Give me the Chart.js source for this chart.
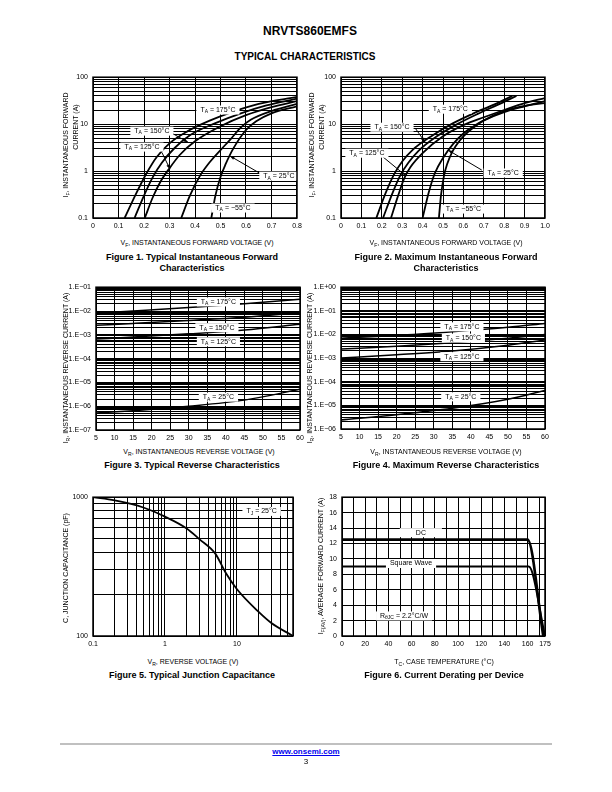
<!DOCTYPE html>
<html>
<head>
<meta charset="utf-8">
<script src="https://cdn.jsdelivr.net/npm/chart.js@4.4.1/dist/chart.umd.min.js"></script>
<style>
body { margin: 0; width: 612px; height: 792px; position: relative; background: #fff; color: #000;
       font-family: "Liberation Sans", Arial, Helvetica, sans-serif; overflow: hidden; }
canvas { position: absolute; }
.t { position: absolute; white-space: nowrap; transform: translate(-50%, -50%); line-height: 1; }
.r { transform: translate(-50%, -50%) rotate(-90deg); }
.ax { font-size: 7px; }
.cap { font-size: 9px; font-weight: bold; }
sub { font-size: 72%; vertical-align: -2px; line-height: 0; }
#rule { position: absolute; left: 60px; top: 743px; width: 492px; height: 2px; background: #c0c0c0; }
a { color: #0000ee; }
</style>
</head>
<body>

<div class="t" style="left:310px;top:31px;font-size:12px;font-weight:bold">NRVTS860EMFS</div>
<div class="t" style="left:305px;top:57px;font-size:10px;font-weight:bold">TYPICAL CHARACTERISTICS</div>

<canvas id="fig1"></canvas>
<canvas id="fig2"></canvas>
<canvas id="fig3"></canvas>
<canvas id="fig4"></canvas>
<canvas id="fig5"></canvas>
<canvas id="fig6"></canvas>

<!-- figure 1 -->
<div class="t r ax" style="left:65px;top:145px">I<sub>F</sub>, INSTANTANEOUS FORWARD</div>
<div class="t r ax" style="left:75px;top:127px">CURRENT (A)</div>
<div class="t ax" style="left:197px;top:242px">V<sub>F</sub>, INSTANTANEOUS FORWARD VOLTAGE (V)</div>
<div class="t cap" style="left:192px;top:257px">Figure 1. Typical Instantaneous Forward</div>
<div class="t cap" style="left:192px;top:268px">Characteristics</div>

<!-- figure 2 -->
<div class="t r ax" style="left:311px;top:145px">I<sub>F</sub>, INSTANTANEOUS FORWARD</div>
<div class="t r ax" style="left:321px;top:127px">CURRENT (A)</div>
<div class="t ax" style="left:446px;top:242px">V<sub>F</sub>, INSTANTANEOUS FORWARD VOLTAGE (V)</div>
<div class="t cap" style="left:446px;top:257px">Figure 2. Maximum Instantaneous Forward</div>
<div class="t cap" style="left:446px;top:268px">Characteristics</div>

<!-- figure 3 -->
<div class="t r ax" style="left:65px;top:368px">I<sub>R</sub>, INSTANTANEOUS REVERSE CURRENT (A)</div>
<div class="t ax" style="left:199px;top:451px">V<sub>R</sub>, INSTANTANEOUS REVERSE VOLTAGE (V)</div>
<div class="t cap" style="left:192px;top:465px">Figure 3. Typical Reverse Characteristics</div>

<!-- figure 4 -->
<div class="t r ax" style="left:309px;top:368px">I<sub>R</sub>, INSTANTANEOUS REVERSE CURRENT (A)</div>
<div class="t ax" style="left:446px;top:451px">V<sub>R</sub>, INSTANTANEOUS REVERSE VOLTAGE (V)</div>
<div class="t cap" style="left:446px;top:465px">Figure 4. Maximum Reverse Characteristics</div>

<!-- figure 5 -->
<div class="t r ax" style="left:65px;top:568px">C, JUNCTION CAPACITANCE (pF)</div>
<div class="t ax" style="left:193px;top:661px">V<sub>R</sub>, REVERSE VOLTAGE (V)</div>
<div class="t cap" style="left:192px;top:675px">Figure 5. Typical Junction Capacitance</div>

<!-- figure 6 -->
<div class="t r ax" style="left:320px;top:566px">I<sub>F(AV)</sub>, AVERAGE FORWARD CURRENT (A)</div>
<div class="t ax" style="left:444px;top:661px">T<sub>C</sub>, CASE TEMPERATURE (&deg;C)</div>
<div class="t cap" style="left:444px;top:675px">Figure 6. Current Derating per Device</div>

<div id="rule"></div>
<div class="t" style="left:306px;top:752px;font-size:8px;font-weight:bold"><a href="http://www.onsemi.com">www.onsemi.com</a></div>
<div class="t" style="left:306px;top:762px;font-size:8px">3</div>

<script>
// ---- Figure 1: typical forward, VF (V) vs IF (A) ----
const fwdXTicks = [0, 0.1, 0.2, 0.3, 0.4, 0.5, 0.6, 0.7, 0.8];
const fwdXLabels = ['0', '0.1', '0.2', '0.3', '0.4', '0.5', '0.6', '0.7', '0.8'];
const fwdYTicks = [0.1, 1, 10, 100];
const fwdYLabels = ['0.1', '1', '10', '100'];
const typ175 = [[0.124,0.1],[0.17,0.34],[0.21,0.9],[0.25,2.0],[0.30,3.9],[0.37,7],[0.46,12],[0.55,18.5],[0.65,27],[0.80,38]];
const typ150 = [[0.163,0.1],[0.20,0.3],[0.235,0.75],[0.27,1.5],[0.32,3.1],[0.38,5.8],[0.48,10.5],[0.58,17],[0.68,25],[0.80,35]];
const typ125 = [[0.203,0.1],[0.235,0.28],[0.265,0.6],[0.30,1.15],[0.34,2.2],[0.40,4.3],[0.50,9],[0.60,15.5],[0.70,23],[0.80,31]];
const typ25  = [[0.346,0.1],[0.38,0.3],[0.42,0.8],[0.46,1.6],[0.50,2.8],[0.54,4.8],[0.58,8.5],[0.62,12.5],[0.70,19],[0.80,27]];
const typM55 = [[0.464,0.1],[0.48,0.3],[0.50,0.75],[0.52,1.4],[0.55,3],[0.60,7.5],[0.64,11.5],[0.70,17],[0.80,24]];

// ---- Figure 2: maximum forward ----
const maxXTicks = [0, 0.1, 0.2, 0.3, 0.4, 0.5, 0.6, 0.7, 0.8, 0.9, 1.0];
const maxXLabels = ['0', '0.1', '0.2', '0.3', '0.4', '0.5', '0.6', '0.7', '0.8', '0.9', '1.0'];
const max175 = [[0.173,0.1],[0.22,0.35],[0.26,0.85],[0.30,1.6],[0.35,2.8],[0.45,5.8],[0.55,10.5],[0.65,17],[0.75,26],[0.84,40]];
const max150 = [[0.206,0.1],[0.25,0.32],[0.29,0.8],[0.33,1.5],[0.38,2.7],[0.47,5.5],[0.57,10],[0.67,16.5],[0.77,26],[0.86,40]];
const max125 = [[0.245,0.1],[0.28,0.3],[0.31,0.7],[0.34,1.2],[0.40,2.4],[0.50,5.5],[0.60,9.5],[0.70,14],[0.80,20],[0.90,28],[1.0,36]];
const max25  = [[0.40,0.1],[0.43,0.35],[0.46,0.9],[0.50,1.9],[0.55,3.8],[0.60,6.3],[0.65,9],[0.70,12],[0.80,18],[0.90,24],[1.0,31]];
const maxM55 = [[0.48,0.1],[0.49,0.3],[0.505,0.8],[0.52,1.4],[0.55,2.8],[0.60,5.5],[0.65,8.5],[0.70,12],[0.80,19],[0.90,24.5],[1.0,28]];

// ---- Figures 3 and 4: reverse current, VR (V) vs IR (A) ----
const revXTicks = [5, 10, 15, 20, 25, 30, 35, 40, 45, 50, 55, 60];
const revXLabels = ['5', '10', '15', '20', '25', '30', '35', '40', '45', '50', '55', '60'];
const typRevYTicks = [1e-7, 1e-6, 1e-5, 1e-4, 1e-3, 1e-2, 1e-1];
const typRevYLabels = ['1.E\u221207', '1.E\u221206', '1.E\u221205', '1.E\u221204', '1.E\u221203', '1.E\u221202', '1.E\u221201'];
const maxRevYTicks = [1e-6, 1e-5, 1e-4, 1e-3, 1e-2, 1e-1, 1];
const maxRevYLabels = ['1.E\u221206', '1.E\u221205', '1.E\u221204', '1.E\u221203', '1.E\u221202', '1.E\u221201', '1.E+00'];
const rev175 = [[5,8e-3],[15,1.0e-2],[30,1.4e-2],[45,2.0e-2],[60,3.1e-2]];
const rev150 = [[5,2.5e-3],[15,3.0e-3],[30,4.0e-3],[45,5.5e-3],[60,8.5e-3]];
const rev125 = [[5,6.6e-4],[15,8e-4],[30,1.1e-3],[45,1.6e-3],[60,2.8e-3]];
const rev25  = [[5,5.2e-7],[15,6.5e-7],[30,1.0e-6],[45,1.8e-6],[60,5.1e-6]];
const revMax175 = [[5,7e-3],[20,9e-3],[35,1.3e-2],[50,2.0e-2],[60,2.9e-2]];
const revMax150 = [[5,2.4e-3],[20,3.2e-3],[35,4.5e-3],[50,7e-3],[60,1.0e-2]];
const revMax125 = [[5,1.0e-3],[20,1.4e-3],[35,2.0e-3],[50,3.5e-3],[60,5.8e-3]];
const revMax25  = [[5,2.4e-6],[20,4e-6],[35,7.5e-6],[50,1.8e-5],[60,4.3e-5]];

// ---- Figure 5: junction capacitance, VR (V) vs C (pF) ----
const capXTicks = [0.1, 1, 10];
const capXLabels = ['0.1', '1', '10'];
const capYTicks = [100, 1000];
const capYLabels = ['100', '1000'];
const capCurve = [[0.1,1000],[0.2,948],[0.5,843],[1,724],[2,595],[3,499],[5,392],[7,284],[10,217],[20,149],[30,124],[60,100]];

// ---- Figure 6: current derating, TC (C) vs IF(AV) (A) ----
const derXTicks = [0, 20, 40, 60, 80, 100, 120, 140, 160, 175];
const derXLabels = ['0', '20', '40', '60', '80', '100', '120', '140', '160', '175'];
const derYTicks = [0, 2, 4, 6, 8, 10, 12, 14, 16, 18];
const derYLabels = ['0', '2', '4', '6', '8', '10', '12', '14', '16', '18'];
const derDC = [[0,12.5],[160,12.5],[173.5,0]];
const derSquare = [[0,9],[161,9],[175,0]];

// grid helpers
function logGrid(lo, hi, max) {
    const out = [];
    for (let e = lo; e < hi; e++)
        for (let m = 1; m < 10; m++) out.push(m * Math.pow(10, e));
    out.push(Math.pow(10, hi));
    return out.filter(v => v <= max * 1.0001);
}
function stepGrid(lo, hi, step) {
    const out = [];
    for (let v = lo; v <= hi + 1e-9; v += step) out.push(v);
    return out;
}

const TICK_FONT = { family: 'Liberation Sans', size: 7 };

function axis(spec, dir, size) {
    return {
        type: spec.type,
        min: spec.min,
        max: spec.max,
        afterBuildTicks: s => { s.ticks = spec.grid.map(v => ({ value: v })); },
        afterFit: s => { if (dir === 'x') s.height = size; else s.width = size; },
        ticks: {
            autoSkip: false, maxRotation: 0, color: '#000', font: TICK_FONT,
            padding: dir === 'x' ? 4 : 5,
            callback: v => {
                const i = spec.ticks.findIndex(t => Math.abs(t - v) <= 1e-6 * Math.max(Math.abs(t), 1e-12));
                return i < 0 ? '' : spec.labels[i];
            }
        },
        grid: { color: '#000', lineWidth: 1, drawTicks: false },
        border: { display: false }
    };
}

function line(points, width) {
    return {
        data: points.map(p => ({ x: p[0], y: p[1] })),
        borderColor: '#000', borderWidth: width || 1.8, pointRadius: 0,
        cubicInterpolationMode: 'monotone', fill: false
    };
}

const framePlugin = {
    id: 'frame',
    afterDraw(chart) {
        const a = chart.chartArea, ctx = chart.ctx;
        ctx.save();
        ctx.strokeStyle = '#000';
        ctx.lineWidth = 1.5;
        ctx.strokeRect(a.left, a.top, a.right - a.left, a.bottom - a.top);
        ctx.restore();
    }
};

// text labels and arrows inside a plot, placed in data units
const notesPlugin = {
    id: 'notes',
    afterDatasetsDraw(chart, args, opts) {
        const ctx = chart.ctx, sx = chart.scales.x, sy = chart.scales.y;
        (opts.items || []).forEach(n => {
            ctx.save();
            if (n.arrow) {
                const x1 = sx.getPixelForValue(n.arrow[0]), y1 = sy.getPixelForValue(n.arrow[1]);
                const x2 = sx.getPixelForValue(n.arrow[2]), y2 = sy.getPixelForValue(n.arrow[3]);
                const ang = Math.atan2(y2 - y1, x2 - x1);
                ctx.strokeStyle = '#000';
                ctx.lineWidth = 1;
                ctx.beginPath(); ctx.moveTo(x1, y1); ctx.lineTo(x2, y2); ctx.stroke();
                ctx.beginPath();
                ctx.moveTo(x2, y2);
                ctx.lineTo(x2 - 5 * Math.cos(ang - 0.35), y2 - 5 * Math.sin(ang - 0.35));
                ctx.lineTo(x2 - 5 * Math.cos(ang + 0.35), y2 - 5 * Math.sin(ang + 0.35));
                ctx.closePath(); ctx.fillStyle = '#000'; ctx.fill();
            }
            const cx = sx.getPixelForValue(n.x), cy = sy.getPixelForValue(n.y);
            const fs = 7, ss = 5;
            const big = `${fs}px "Liberation Sans"`, small = `${ss}px "Liberation Sans"`;
            const parts = n.text;
            ctx.font = big; const w0 = ctx.measureText(parts[0]).width;
            ctx.font = small; const w1 = parts[1] ? ctx.measureText(parts[1]).width : 0;
            ctx.font = big; const w2 = parts[2] ? ctx.measureText(parts[2]).width : 0;
            const w = w0 + w1 + w2, pad = n.pad == null ? 4 : n.pad;
            ctx.fillStyle = '#fff';
            ctx.fillRect(cx - w / 2 - pad, cy - 4.5, w + 2 * pad, 9);
            ctx.fillStyle = '#000';
            ctx.textBaseline = 'middle';
            let x = cx - w / 2;
            ctx.font = big; ctx.fillText(parts[0], x, cy); x += w0;
            if (parts[1]) { ctx.font = small; ctx.fillText(parts[1], x, cy + 2); x += w1; }
            if (parts[2]) { ctx.font = big; ctx.fillText(parts[2], x, cy); }
            ctx.restore();
        });
    }
};

function plot(id, box, xs, ys, datasets, notes) {
    const L = 42, T = 8, R = 12, B = 16;
    const cv = document.getElementById(id);
    cv.width = box.w + L + R;
    cv.height = box.h + T + B;
    cv.style.left = (box.l - L) + 'px';
    cv.style.top = (box.t - T) + 'px';
    new Chart(cv, {
        type: 'line',
        data: { datasets: datasets },
        options: {
            responsive: false, animation: false, devicePixelRatio: 1,
            layout: { padding: { top: T, right: R, left: 0, bottom: 0 } },
            plugins: { legend: { display: false }, tooltip: { enabled: false }, notes: { items: notes } },
            scales: { x: axis(xs, 'x', B), y: axis(ys, 'y', L) }
        },
        plugins: [framePlugin, notesPlugin]
    });
}

const fwdY = { type: 'logarithmic', min: 0.1, max: 100, grid: logGrid(-1, 2, 100), ticks: fwdYTicks, labels: fwdYLabels };

plot('fig1', { l: 93, t: 76, w: 204, h: 142 },
    { type: 'linear', min: 0, max: 0.8, grid: stepGrid(0, 0.8, 0.1), ticks: fwdXTicks, labels: fwdXLabels },
    fwdY,
    [line(typ175), line(typ150), line(typ125), line(typ25), line(typM55)],
    [
        { x: 0.49, y: 20, text: ['T', 'A', ' = 175\u00b0C'] },
        { x: 0.231, y: 7.1, text: ['T', 'A', ' = 150\u00b0C'], arrow: [0.31, 6.4, 0.373, 4.1] },
        { x: 0.192, y: 3.24, text: ['T', 'A', ' = 125\u00b0C'], arrow: [0.27, 2.5, 0.302, 1.1] },
        { x: 0.729, y: 0.78, text: ['T', 'A', ' = 25\u00b0C'], arrow: [0.667, 0.82, 0.537, 2.1] },
        { x: 0.549, y: 0.163, text: ['T', 'A', ' = \u221255\u00b0C'] }
    ]);

plot('fig2', { l: 341, t: 76, w: 204, h: 142 },
    { type: 'linear', min: 0, max: 1.0, grid: stepGrid(0, 1.0, 0.1), ticks: maxXTicks, labels: maxXLabels },
    fwdY,
    [line(max175), line(max150), line(max125), line(max25), line(maxM55)],
    [
        { x: 0.536, y: 20.8, text: ['T', 'A', ' = 175\u00b0C'] },
        { x: 0.25, y: 8.6, text: ['T', 'A', ' = 150\u00b0C'], arrow: [0.363, 8.3, 0.413, 4.1] },
        { x: 0.127, y: 2.4, text: ['T', 'A', ' = 125\u00b0C'], arrow: [0.206, 2.0, 0.314, 0.82] },
        { x: 0.795, y: 0.91, text: ['T', 'A', ' = 25\u00b0C'], arrow: [0.69, 1.05, 0.525, 2.8] },
        { x: 0.6, y: 0.155, text: ['T', 'A', ' = \u221255\u00b0C'] }
    ]);

const revX = { type: 'linear', min: 5, max: 60, grid: stepGrid(5, 60, 5), ticks: revXTicks, labels: revXLabels };

plot('fig3', { l: 96, t: 286, w: 204, h: 144 }, revX,
    { type: 'logarithmic', min: 1e-7, max: 1e-1, grid: logGrid(-7, -1, 1e-1), ticks: typRevYTicks, labels: typRevYLabels },
    [line(rev175, 1.5), line(rev150, 1.5), line(rev125, 1.5), line(rev25, 1.5)],
    [
        { x: 38, y: 2.4e-2, text: ['T', 'A', ' = 175\u00b0C'] },
        { x: 37.6, y: 2.0e-3, text: ['T', 'A', ' = 150\u00b0C'] },
        { x: 38, y: 5.1e-4, text: ['T', 'A', ' = 125\u00b0C'] },
        { x: 38, y: 2.4e-6, text: ['T', 'A', ' = 25\u00b0C'] }
    ]);

plot('fig4', { l: 341, t: 286, w: 204, h: 143 }, revX,
    { type: 'logarithmic', min: 1e-6, max: 1, grid: logGrid(-6, 0, 1), ticks: maxRevYTicks, labels: maxRevYLabels },
    [line(revMax175, 1.5), line(revMax150, 1.5), line(revMax125, 1.5), line(revMax25, 1.5)],
    [
        { x: 37.6, y: 2.1e-2, text: ['T', 'A', ' = 175\u00b0C'] },
        { x: 38, y: 7e-3, text: ['T', 'A', ' = 150\u00b0C'] },
        { x: 37.6, y: 1.15e-3, text: ['T', 'A', ' = 125\u00b0C'] },
        { x: 37.3, y: 2.3e-5, text: ['T', 'A', ' = 25\u00b0C'] }
    ]);

plot('fig5', { l: 93, t: 496, w: 200, h: 140 },
    { type: 'logarithmic', min: 0.1, max: 60, grid: logGrid(-1, 2, 60), ticks: capXTicks, labels: capXLabels },
    { type: 'logarithmic', min: 100, max: 1000, grid: stepGrid(100, 1000, 100), ticks: capYTicks, labels: capYLabels },
    [line(capCurve)],
    [{ x: 22, y: 790, text: ['T', 'J', ' = 25\u00b0C'] }]);

plot('fig6', { l: 342, t: 496, w: 203, h: 140 },
    { type: 'linear', min: 0, max: 175, grid: stepGrid(0, 170, 10).concat([175]), ticks: derXTicks, labels: derXLabels },
    { type: 'linear', min: 0, max: 18, grid: stepGrid(0, 18, 2), ticks: derYTicks, labels: derYLabels },
    [line(derDC, 2.6), line(derSquare, 2)],
    [
        { x: 68, y: 13.4, text: ['DC'], pad: 16 },
        { x: 59.5, y: 9.4, text: ['Square Wave'] },
        { x: 53.5, y: 2.6, text: ['R', '\u03b8JC', ' = 2.2\u00b0C/W'] }
    ]);
</script>
</body>
</html>
